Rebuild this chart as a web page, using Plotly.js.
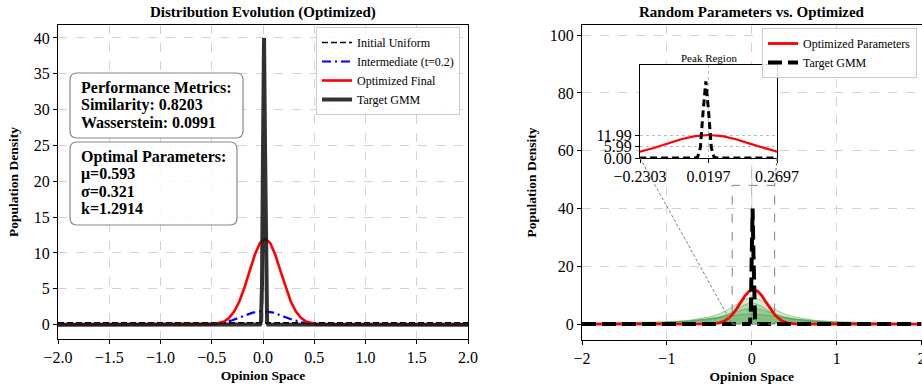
<!DOCTYPE html>
<html><head><meta charset="utf-8">
<script src="https://cdn.plot.ly/plotly-3.0.1.min.js"></script>
<style>body{margin:0;padding:0;background:#fff}#chart{width:922px;height:385px}</style>
</head><body><div id="chart"></div>
<script>
// ---- data ----
const xUniform = [-2, 2];
const yUniform = [0.25, 0.25];

const xInter = [-2, -0.6, -0.5, -0.4, -0.3, -0.2, -0.1, 0, 0.1, 0.2, 0.3, 0.4, 0.5, 0.6, 2];
const yInter = [0, 0.01, 0.08, 0.26, 0.62, 1.15, 1.68, 1.9, 1.68, 1.15, 0.62, 0.26, 0.08, 0.01, 0];

const xOpt = [-2, -0.58, -0.48, -0.38, -0.33, -0.28, -0.23, -0.18, -0.13, -0.08, -0.03, 0.02, 0.07, 0.12, 0.17, 0.22, 0.27, 0.32, 0.37, 0.42, 0.52, 0.62, 2];
const yOpt = [0, 0.01, 0.07, 0.43, 0.94, 1.85, 3.27, 5.22, 7.51, 9.75, 11.39, 11.99, 11.39, 9.75, 7.51, 5.22, 3.27, 1.85, 0.94, 0.43, 0.07, 0.01, 0];

const xTarget = [-2, -0.03, -0.02, -0.01, 0, 0.01, 0.02, 0.03, 0.04, 0.05, 2];
const yTarget = [0, 0.01, 0.45, 5.4, 24.3, 40, 24.3, 5.4, 0.45, 0.01, 0];

const xRand = [-2, -1.5, -1, -0.75, -0.5, -0.4, -0.3, -0.2, -0.1, 0, 0.1, 0.2, 0.3, 0.4, 0.5, 0.75, 1, 1.5, 2];
const rand1 = [0.20, 0.36, 0.77, 1.28, 2.46, 3.35, 4.65, 6.44, 8.37, 9.3, 8.37, 6.44, 4.65, 3.35, 2.46, 1.28, 0.77, 0.36, 0.20];
const rand2 = [0.12, 0.20, 0.44, 0.75, 1.50, 2.11, 3.07, 4.57, 6.47, 7.5, 6.47, 4.57, 3.07, 2.11, 1.50, 0.75, 0.44, 0.20, 0.12];
const rand3 = [0.16, 0.28, 0.60, 0.98, 1.81, 2.38, 3.17, 4.15, 5.08, 5.5, 5.08, 4.15, 3.17, 2.38, 1.81, 0.98, 0.60, 0.28, 0.16];
const rand4 = [0.21, 0.35, 0.70, 1.08, 1.75, 2.13, 2.57, 3.02, 3.37, 3.5, 3.37, 3.02, 2.57, 2.13, 1.75, 1.08, 0.70, 0.35, 0.21];
const xSpike = [-0.015, 0, 0.015];
const ySpike = [0, 55, 0];

const xTicksLeft = [-2, -1.5, -1, -0.5, 0, 0.5, 1, 1.5, 2];
const xTicksRight = [-2, -1, 0, 1, 2];
const insetXTicks = [-0.2303, 0.0197, 0.2697];
const insetXText = ['\u22120.2303', '0.0197', '0.2697'];
const insetYTicks = [0, 5.99, 11.99];
const insetYText = ['0.00', '5.99', '11.99'];
const zoomBox = {x0: -0.2303, x1: 0.2697, y0: 0, y1: 48};

const perfLines = ['Performance Metrics:', 'Similarity: 0.8203', 'Wasserstein: 0.0991'];
const paramLines = ['Optimal Parameters:', '\u03bc=0.593', '\u03c3=0.321', 'k=1.2914'];

// ---- layout helpers ----
const W = 922, H = 385;
const FONT = 'Liberation Serif, Times New Roman, serif';
const px = v => v / W, py = v => 1 - v / H;

const traces = [];
// left
traces.push({x: xUniform, y: yUniform, mode: 'lines', name: 'Initial Uniform', line: {color: 'black', width: 1.6, dash: '6px,3px'}, xaxis: 'x', yaxis: 'y', legend: 'legend'});
traces.push({x: xInter, y: yInter, mode: 'lines', name: 'Intermediate (t=0.2)', line: {color: 'blue', width: 2.2, dash: '9px,4px,2px,4px'}, xaxis: 'x', yaxis: 'y', legend: 'legend'});
traces.push({x: xOpt, y: yOpt, mode: 'lines', name: 'Optimized Final', line: {color: 'red', width: 2.6}, xaxis: 'x', yaxis: 'y', legend: 'legend'});
traces.push({x: xTarget, y: yTarget, mode: 'lines', name: 'Target GMM', line: {color: 'rgba(20,20,20,0.88)', width: 4}, xaxis: 'x', yaxis: 'y', legend: 'legend'});
// right: random curves
[rand1, rand2, rand3, rand4].forEach(r => {
  traces.push({x: xRand, y: r, mode: 'lines', fill: 'tozeroy', fillcolor: 'rgba(44,150,44,0.2)', line: {color: 'rgba(44,150,44,0.55)', width: 0.8}, showlegend: false, xaxis: 'x2', yaxis: 'y2', hoverinfo: 'skip'});
});
traces.push({x: xSpike, y: ySpike, mode: 'lines', line: {color: 'rgba(44,150,44,0.15)', width: 1}, showlegend: false, xaxis: 'x2', yaxis: 'y2'});
traces.push({x: xOpt, y: yOpt, mode: 'lines', name: 'Optimized Parameters', line: {color: 'red', width: 2.8}, xaxis: 'x2', yaxis: 'y2', legend: 'legend2'});
traces.push({x: xTarget, y: yTarget, mode: 'lines', name: 'Target GMM', line: {color: 'black', width: 4, dash: '14px,6px'}, xaxis: 'x2', yaxis: 'y2', legend: 'legend2'});
// inset
traces.push({x: xOpt, y: yOpt, mode: 'lines', line: {color: 'red', width: 2.2}, showlegend: false, xaxis: 'x3', yaxis: 'y3'});
traces.push({x: xTarget, y: yTarget, mode: 'lines', line: {color: 'black', width: 3, dash: '7px,4px'}, showlegend: false, xaxis: 'x3', yaxis: 'y3'});

const gridCommon = {showgrid: true, gridcolor: '#d3d3d3', griddash: 'dash', gridwidth: 1, zeroline: false,
  showline: true, linecolor: 'black', linewidth: 1, mirror: true, ticks: 'outside', ticklen: 4, tickcolor: 'black',
  tickfont: {family: FONT, size: 16, color: 'black'}};

const x2Dom = [px(582), px(921.5)], y2Dom = [py(340), py(25)];
const x2Rng = [-2, 2], y2Rng = [-5.5, 103.5];
const x3Dom = [px(640), px(777)], y3Dom = [py(158), py(65)];

function toPaperX(v) { return x2Dom[0] + (v - x2Rng[0]) / (x2Rng[1] - x2Rng[0]) * (x2Dom[1] - x2Dom[0]); }
function toPaperY(v) { return y2Dom[0] + (v - y2Rng[0]) / (y2Rng[1] - y2Rng[0]) * (y2Dom[1] - y2Dom[0]); }

function roundRect(x0, y0, x1, y1, r) {
  const X0 = px(x0), X1 = px(x1), Y0 = py(y0), Y1 = py(y1), rx = r / W, ry = r / H;
  return `M${X0 + rx},${Y0} L${X1 - rx},${Y0} Q${X1},${Y0} ${X1},${Y0 - ry} L${X1},${Y1 + ry} Q${X1},${Y1} ${X1 - rx},${Y1} L${X0 + rx},${Y1} Q${X0},${Y1} ${X0},${Y1 + ry} L${X0},${Y0 - ry} Q${X0},${Y0} ${X0 + rx},${Y0} Z`;
}

const shapes = [
  {type: 'path', xref: 'paper', yref: 'paper', path: roundRect(70, 73, 243, 138, 7), fillcolor: 'rgba(255,255,255,0.85)', line: {color: '#888', width: 1.2}},
  {type: 'path', xref: 'paper', yref: 'paper', path: roundRect(70, 142, 237, 225, 7), fillcolor: 'rgba(255,255,255,0.85)', line: {color: '#888', width: 1.2}},
  {type: 'rect', xref: 'x2', yref: 'y2', x0: zoomBox.x0, x1: zoomBox.x1, y0: zoomBox.y0, y1: zoomBox.y1, line: {color: '#808080', width: 1, dash: 'dash'}},
  {type: 'line', xref: 'paper', yref: 'paper', x0: x3Dom[0], y0: y3Dom[0], x1: toPaperX(zoomBox.x0), y1: toPaperY(zoomBox.y0), line: {color: '#808080', width: 1, dash: '3px,2px'}},
  {type: 'line', xref: 'paper', yref: 'paper', x0: x3Dom[1], y0: y3Dom[0], x1: toPaperX(zoomBox.x1), y1: toPaperY(zoomBox.y1), line: {color: '#808080', width: 1, dash: '3px,2px'}}
];

const annotations = [];
const lineY1 = [88, 105, 122], lineY2 = [157, 174, 192, 209];
perfLines.forEach((t, i) => annotations.push({xref: 'paper', yref: 'paper', x: px(79), y: py(lineY1[i]), xanchor: 'left', yanchor: 'middle', text: '<b>' + t + '</b>', showarrow: false, font: {family: FONT, size: 16, color: 'black'}}));
paramLines.forEach((t, i) => annotations.push({xref: 'paper', yref: 'paper', x: px(79), y: py(lineY2[i]), xanchor: 'left', yanchor: 'middle', text: '<b>' + t + '</b>', showarrow: false, font: {family: FONT, size: 16, color: 'black'}}));
annotations.push({xref: 'paper', yref: 'paper', x: (x3Dom[0] + x3Dom[1]) / 2, y: py(58), xanchor: 'center', yanchor: 'middle', text: 'Peak Region', showarrow: false, font: {family: FONT, size: 11, color: 'black'}});

const legendCommon = {bgcolor: 'rgba(255,255,255,0.85)', bordercolor: '#cccccc', borderwidth: 1, font: {family: FONT, size: 12, color: 'black'}, xanchor: 'right', yanchor: 'top', tracegroupgap: 0};

const layout = {
  width: W, height: H, margin: {l: 0, r: 0, t: 0, b: 0}, paper_bgcolor: 'white', plot_bgcolor: 'white',
  font: {family: FONT, color: 'black'}, showlegend: true,
  title: {text: ''},
  xaxis: Object.assign({}, gridCommon, {domain: [px(58), px(468)], range: [-2, 2], tickvals: xTicksLeft, tickformat: '.1f', anchor: 'y',
    title: {text: '<b>Opinion Space</b>', font: {family: FONT, size: 13.5}, standoff: 5}}),
  yaxis: Object.assign({}, gridCommon, {domain: [py(339), py(25)], range: [-2, 41.8], dtick: 5, tick0: 0, anchor: 'x',
    title: {text: '<b>Population Density</b>', font: {family: FONT, size: 13.5}, standoff: 12}}),
  xaxis2: Object.assign({}, gridCommon, {domain: x2Dom, range: x2Rng, tickvals: xTicksRight, anchor: 'y2', ticklabeloverflow: 'allow',
    title: {text: '<b>Opinion Space</b>', font: {family: FONT, size: 13.5}, standoff: 5}}),
  yaxis2: Object.assign({}, gridCommon, {domain: y2Dom, range: y2Rng, dtick: 20, tick0: 0, anchor: 'x2',
    title: {text: '<b>Population Density</b>', font: {family: FONT, size: 13.5}, standoff: 10}}),
  xaxis3: Object.assign({}, gridCommon, {domain: x3Dom, range: [-0.2303, 0.2697], tickvals: insetXTicks, ticktext: insetXText, anchor: 'y3', griddash: 'dot', gridcolor: '#bbbbbb'}),
  yaxis3: Object.assign({}, gridCommon, {domain: y3Dom, range: [0, 48.5], tickvals: insetYTicks, ticktext: insetYText, anchor: 'x3', griddash: 'dot', gridcolor: '#bbbbbb'}),
  legend: Object.assign({}, legendCommon, {x: px(460), y: py(27)}),
  legend2: Object.assign({}, legendCommon, {x: px(917), y: py(28)}),
  shapes: shapes,
  annotations: annotations.concat([
    {xref: 'paper', yref: 'paper', x: (px(58) + px(468)) / 2, y: py(12), xanchor: 'center', yanchor: 'middle', text: '<b>Distribution Evolution (Optimized)</b>', showarrow: false, font: {family: FONT, size: 15, color: 'black'}},
    {xref: 'paper', yref: 'paper', x: (x2Dom[0] + x2Dom[1]) / 2, y: py(12), xanchor: 'center', yanchor: 'middle', text: '<b>Random Parameters vs. Optimized</b>', showarrow: false, font: {family: FONT, size: 15, color: 'black'}}
  ])
};

Plotly.newPlot('chart', traces, layout, {displayModeBar: false, staticPlot: true});
</script></body></html>
